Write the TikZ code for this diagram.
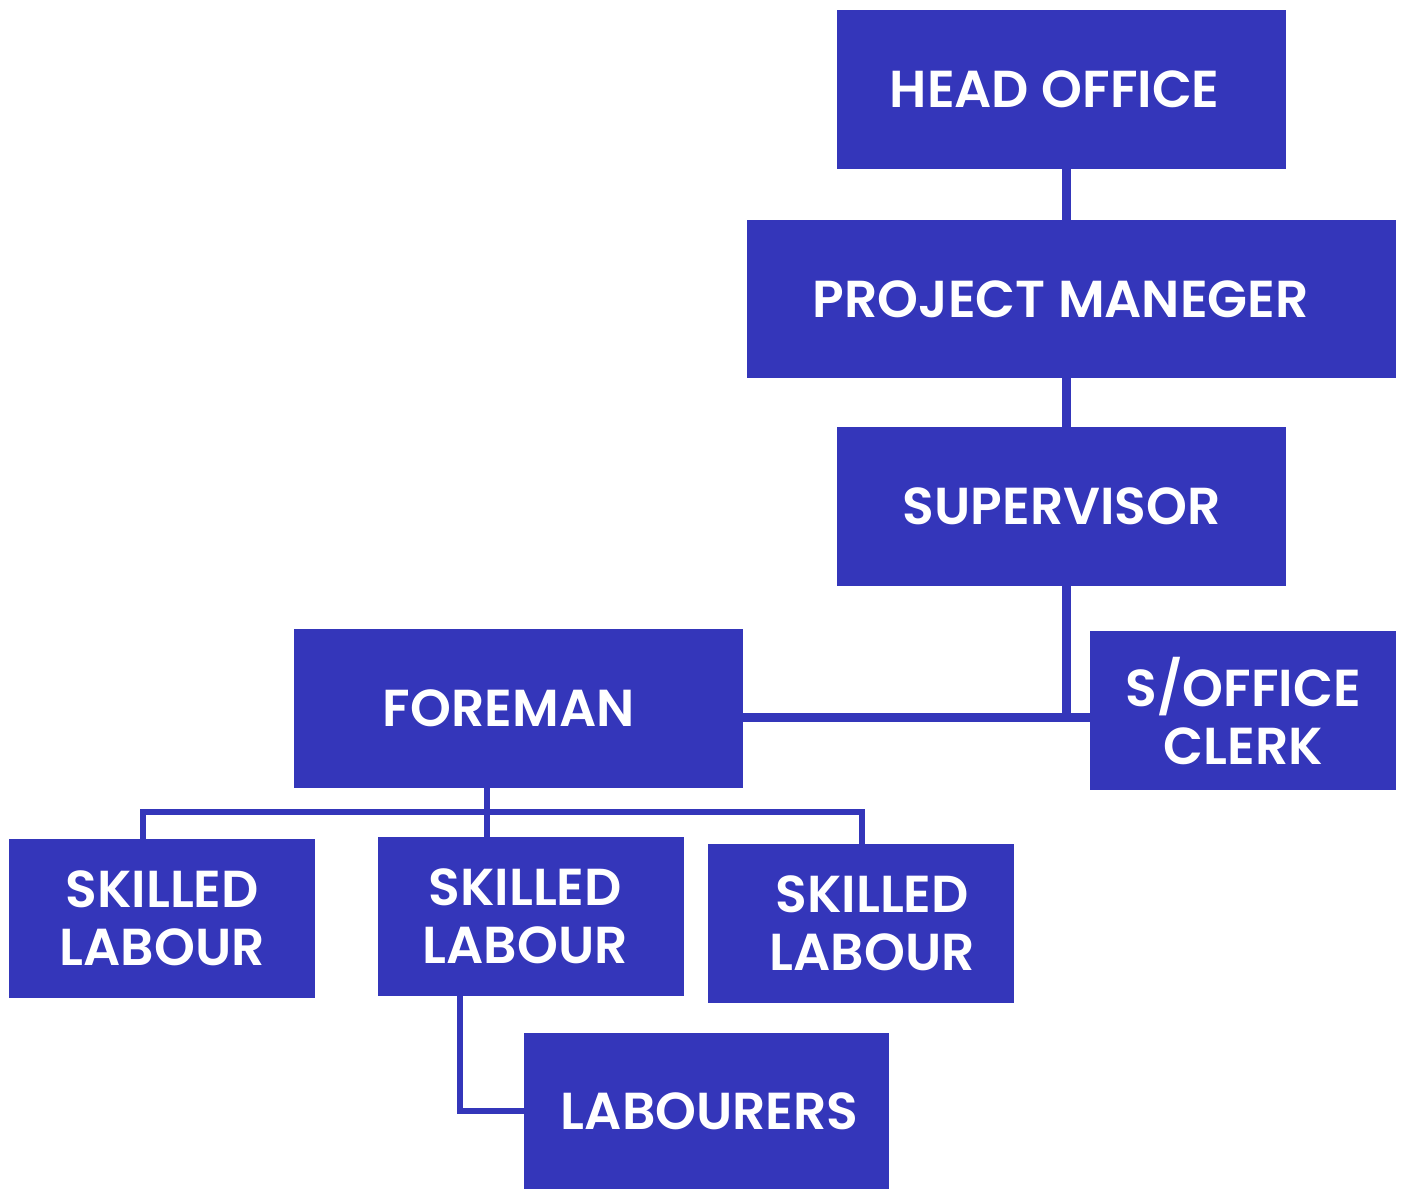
\documentclass[tikz,border=0pt]{standalone}
\usepackage{fontspec}
\setmainfont{Poppins}[BoldFont={Poppins SemiBold}]
\definecolor{boxblue}{RGB}{52,54,186}
\newcommand{\shx}[1]{\hspace*{#1}}
\tikzset{
  orgbox/.style={rectangle, fill=boxblue, text=white, inner sep=0pt, anchor=north west,
    align=center, font=\fontsize{52}{58}\selectfont\bfseries},
  thickconn/.style={draw=boxblue, line width=9pt},
  thinconn/.style={draw=boxblue, line width=6pt},
}
\begin{document}
\begin{tikzpicture}[x=1pt,y=-1pt]
\useasboundingbox (0,0) rectangle (1402,1189);
\node[orgbox, minimum width=449pt, minimum height=159pt] (ho) at (837,10) {\shx{-14pt}HEAD OFFICE};
\node[orgbox, minimum width=649pt, minimum height=158pt] (pm) at (747,220) {\shx{-22pt}PROJECT MANEGER};
\node[orgbox, minimum width=449pt, minimum height=159pt] (sup) at (837,427) {SUPERVISOR};
\node[orgbox, minimum width=306pt, minimum height=159pt] (clerk) at (1090,631) {S/OFFICE\\CLERK};
\node[orgbox, minimum width=449pt, minimum height=159pt] (fore) at (294,629) {\shx{-20pt}FOREMAN};
\node[orgbox, minimum width=306pt, minimum height=159pt] (sk1) at (9,839) {SKILLED\\LABOUR};
\node[orgbox, minimum width=306pt, minimum height=159pt] (sk2) at (378,837) {\shx{-12pt}SKILLED\\\shx{-12pt}LABOUR};
\node[orgbox, minimum width=306pt, minimum height=159pt] (sk3) at (708,844) {\shx{22pt}SKILLED\\\shx{22pt}LABOUR};
\node[orgbox, minimum width=365pt, minimum height=156pt] (lab) at (524,1033) {\shx{6pt}LABOURERS};

\coordinate (jsup) at (1066,717);
\coordinate (jfore) at (487,812);
\coordinate (jlab) at (460,1111);

\draw[thickconn] (ho.south -| jsup) -- (pm.north -| jsup);
\draw[thickconn] (pm.south -| jsup) -- (sup.north -| jsup);
\draw[thickconn] (sup.south -| jsup) -- ([yshift=-4.5pt]jsup);
\draw[thickconn] (fore.east |- jsup) -- (clerk.west |- jsup);

\draw[thinconn] (fore.south -| jfore) -- (jfore);
\draw[thinconn] (sk1.north -| 143,0) -- (143,812) -- (862,812) -- (sk3.north -| 862,0);
\draw[thinconn] (jfore) -- (sk2.north -| jfore);
\draw[thinconn] (sk2.south -| jlab) -- (jlab) -- (lab.west |- jlab);
\end{tikzpicture}
\end{document}
